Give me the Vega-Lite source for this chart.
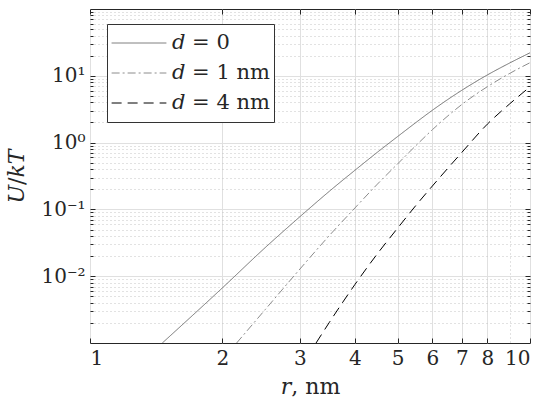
{
  "$schema": "https://vega.github.io/schema/vega-lite/v6.json",
  "width": 440,
  "height": 334,
  "autosize": "none",
  "padding": {"left": 90, "top": 9, "right": 20, "bottom": 71},
  "background": "white",
  "config": {
    "font": "DejaVu Serif",
    "view": {"stroke": "#262626", "strokeWidth": 1},
    "axis": {
      "domain": false,
      "labelFont": "DejaVu Serif",
      "labelFontSize": 20,
      "labelColor": "#262626",
      "titleFont": "DejaVu Serif",
      "titleFontSize": 22,
      "titleFontWeight": "normal",
      "titleColor": "#262626",
      "tickColor": "#262626",
      "gridOpacity": 1
    }
  },
  "data": {
    "values": [
      {"d": "𝑑 = 0", "r": 1.46, "U": 0.001},
      {"d": "𝑑 = 0", "r": 2, "U": 0.0067},
      {"d": "𝑑 = 0", "r": 2.5, "U": 0.0267},
      {"d": "𝑑 = 0", "r": 3, "U": 0.0778},
      {"d": "𝑑 = 0", "r": 3.5, "U": 0.187},
      {"d": "𝑑 = 0", "r": 4, "U": 0.385},
      {"d": "𝑑 = 0", "r": 4.5, "U": 0.718},
      {"d": "𝑑 = 0", "r": 5, "U": 1.23},
      {"d": "𝑑 = 0", "r": 5.5, "U": 1.99},
      {"d": "𝑑 = 0", "r": 6, "U": 3.05},
      {"d": "𝑑 = 0", "r": 7, "U": 6.07},
      {"d": "𝑑 = 0", "r": 8, "U": 10.3},
      {"d": "𝑑 = 0", "r": 9, "U": 15.6},
      {"d": "𝑑 = 0", "r": 10, "U": 22.1},
      {"d": "𝑑 = 1 nm", "r": 2.154, "U": 0.001},
      {"d": "𝑑 = 1 nm", "r": 2.5, "U": 0.00315},
      {"d": "𝑑 = 1 nm", "r": 3, "U": 0.0128},
      {"d": "𝑑 = 1 nm", "r": 3.5, "U": 0.0407},
      {"d": "𝑑 = 1 nm", "r": 4, "U": 0.105},
      {"d": "𝑑 = 1 nm", "r": 4.5, "U": 0.239},
      {"d": "𝑑 = 1 nm", "r": 5, "U": 0.479},
      {"d": "𝑑 = 1 nm", "r": 5.5, "U": 0.897},
      {"d": "𝑑 = 1 nm", "r": 6, "U": 1.56},
      {"d": "𝑑 = 1 nm", "r": 7, "U": 3.72},
      {"d": "𝑑 = 1 nm", "r": 8, "U": 6.87},
      {"d": "𝑑 = 1 nm", "r": 9, "U": 10.9},
      {"d": "𝑑 = 1 nm", "r": 10, "U": 15.7},
      {"d": "𝑑 = 4 nm", "r": 3.264, "U": 0.001},
      {"d": "𝑑 = 4 nm", "r": 3.5, "U": 0.00204},
      {"d": "𝑑 = 4 nm", "r": 4, "U": 0.0075},
      {"d": "𝑑 = 4 nm", "r": 4.5, "U": 0.0217},
      {"d": "𝑑 = 4 nm", "r": 5, "U": 0.0522},
      {"d": "𝑑 = 4 nm", "r": 5.5, "U": 0.114},
      {"d": "𝑑 = 4 nm", "r": 6, "U": 0.224},
      {"d": "𝑑 = 4 nm", "r": 7, "U": 0.713},
      {"d": "𝑑 = 4 nm", "r": 8, "U": 1.89},
      {"d": "𝑑 = 4 nm", "r": 9, "U": 3.82},
      {"d": "𝑑 = 4 nm", "r": 10, "U": 6.84}
    ]
  },
  "layer": [
    {
      "mark": {"type": "line", "clip": true, "strokeWidth": 1, "interpolate": "monotone"},
      "encoding": {
        "x": {
          "field": "r",
          "type": "quantitative",
          "scale": {"type": "log", "domain": [1, 10], "nice": false},
          "axis": {
            "title": "𝑟, nm",
            "values": [1, 2, 3, 4, 5, 6, 7, 8, 9, 10],
            "labelExpr": "datum.value == 9 ? '' : format(datum.value, 'd')",
            "labelPadding": 10,
            "titlePadding": 8,
            "tickSize": {"condition": {"test": "datum.value == 9", "value": 0}, "value": -5},
            "grid": true,
            "gridColor": {"condition": {"test": "datum.value == 9", "value": "#c4c4c4"}, "value": "#e0e0e0"},
            "gridDash": {"condition": {"test": "datum.value == 9", "value": [1, 3]}, "value": []}
          }
        },
        "y": {
          "field": "U",
          "type": "quantitative",
          "scale": {"type": "log", "domain": [0.001, 100], "nice": false},
          "axis": {
            "title": "𝑈/𝑘𝑇",
            "values": [0.002, 0.003, 0.004, 0.005, 0.006, 0.007, 0.008, 0.009, 0.01, 0.02, 0.03, 0.04, 0.05, 0.06, 0.07, 0.08, 0.09, 0.1, 0.2, 0.3, 0.4, 0.5, 0.6, 0.7, 0.8, 0.9, 1, 2, 3, 4, 5, 6, 7, 8, 9, 10, 20, 30, 40, 50, 60, 70, 80, 90],
            "labelExpr": "datum.value == 10 ? '10¹' : datum.value == 1 ? '10⁰' : datum.value == 0.1 ? '10⁻¹' : datum.value == 0.01 ? '10⁻²' : ''",
            "labelPadding": 10,
            "titlePadding": 12,
            "tickSize": {"condition": {"test": "indexof([0.01, 0.1, 1, 10], datum.value) >= 0", "value": -5}, "value": -3},
            "grid": true,
            "gridColor": {"condition": {"test": "indexof([0.01, 0.1, 1, 10], datum.value) >= 0", "value": "#e0e0e0"}, "value": "#c4c4c4"},
            "gridDash": {"condition": {"test": "indexof([0.01, 0.1, 1, 10], datum.value) >= 0", "value": []}, "value": [1, 3]}
          }
        },
        "color": {
          "field": "d",
          "type": "nominal",
          "scale": {"domain": ["𝑑 = 0", "𝑑 = 1 nm", "𝑑 = 4 nm"], "range": ["#707070", "#8c8c8c", "#000000"]},
          "legend": {
            "title": null,
            "orient": "none",
            "legendX": 17,
            "legendY": 15,
            "strokeColor": "#333333",
            "fillColor": "white",
            "padding": 4,
            "symbolType": "stroke",
            "symbolSize": 3000,
            "symbolStrokeWidth": 1,
            "labelFont": "DejaVu Serif",
            "labelFontSize": 21,
            "labelColor": "#262626",
            "labelOffset": 5,
            "clipHeight": 30,
            "rowPadding": 0
          }
        },
        "strokeDash": {
          "field": "d",
          "type": "nominal",
          "scale": {"domain": ["𝑑 = 0", "𝑑 = 1 nm", "𝑑 = 4 nm"], "range": [[1, 0], [8, 3, 2, 3], [10, 6]]},
          "legend": null
        }
      }
    },
    {
      "mark": {"type": "line", "clip": true, "opacity": 0},
      "encoding": {
        "x": {
          "field": "r",
          "type": "quantitative",
          "axis": {
            "orient": "top",
            "title": null,
            "labels": false,
            "grid": false,
            "values": [1, 2, 3, 4, 5, 6, 7, 8, 10],
            "tickSize": -5
          }
        },
        "y": {
          "field": "U",
          "type": "quantitative",
          "axis": {
            "orient": "right",
            "title": null,
            "labels": false,
            "grid": false,
            "values": [0.002, 0.003, 0.004, 0.005, 0.006, 0.007, 0.008, 0.009, 0.01, 0.02, 0.03, 0.04, 0.05, 0.06, 0.07, 0.08, 0.09, 0.1, 0.2, 0.3, 0.4, 0.5, 0.6, 0.7, 0.8, 0.9, 1, 2, 3, 4, 5, 6, 7, 8, 9, 10, 20, 30, 40, 50, 60, 70, 80, 90],
            "tickSize": {"condition": {"test": "indexof([0.01, 0.1, 1, 10], datum.value) >= 0", "value": -5}, "value": -3}
          }
        },
        "detail": {"field": "d", "type": "nominal"}
      }
    }
  ],
  "resolve": {"axis": {"x": "independent", "y": "independent"}}
}
